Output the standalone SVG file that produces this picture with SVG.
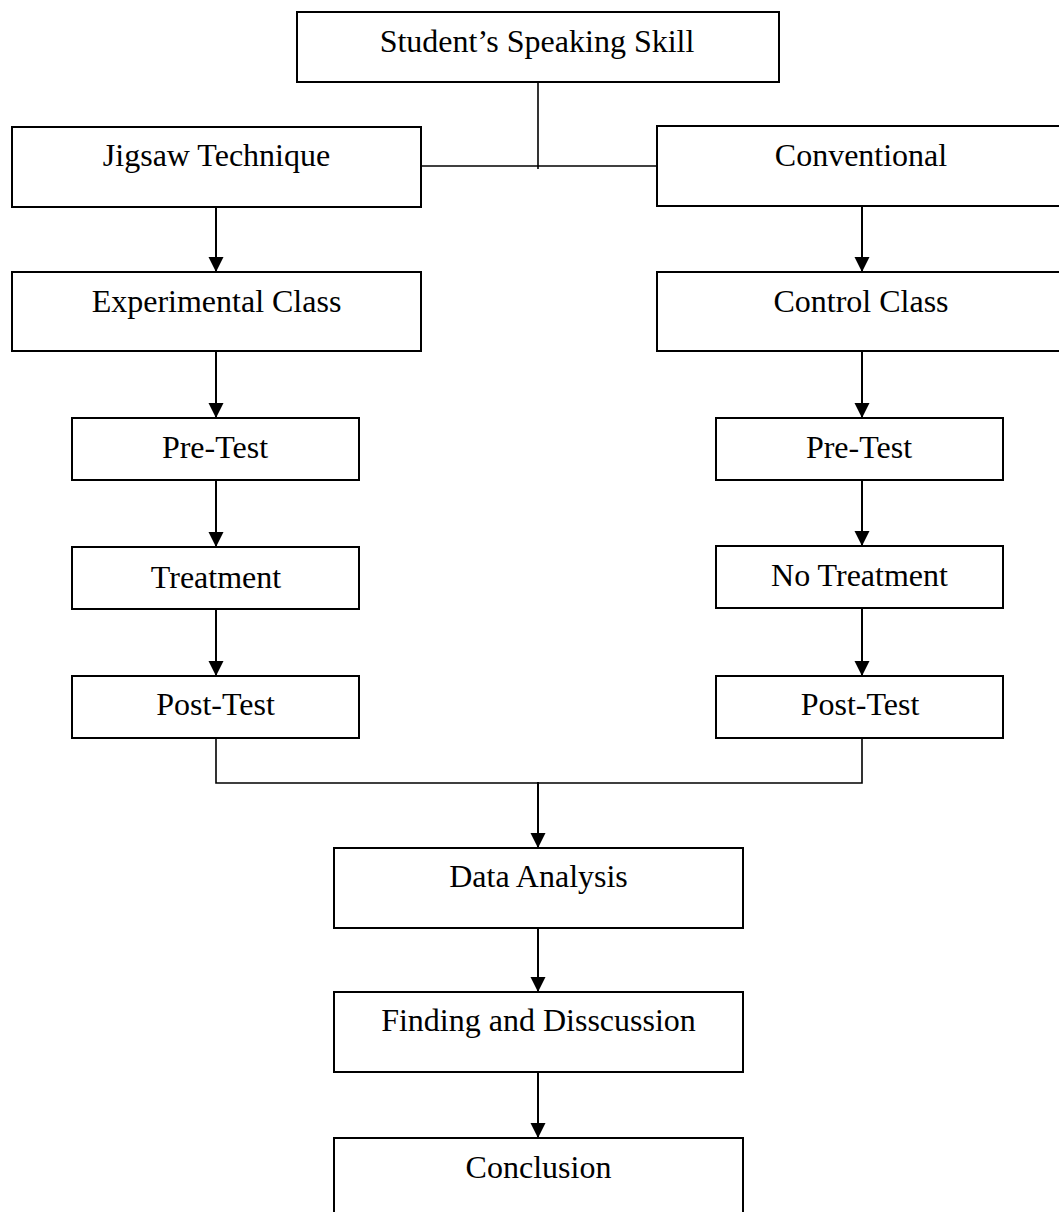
<svg xmlns="http://www.w3.org/2000/svg" width="1059" height="1212" viewBox="0 0 1059 1212">
<style>
.box{fill:#fff;stroke:#000;stroke-width:2}
.lbl{font-family:"Liberation Serif","Times New Roman",serif;font-size:32px;fill:#000;text-anchor:middle}
.ln{fill:none;stroke:#000;stroke-width:1.6}
.ar{fill:none;stroke:#000;stroke-width:2;marker-end:url(#ah)}
</style>
<defs>
<marker id="ah" markerUnits="userSpaceOnUse" markerWidth="16" markerHeight="16" viewBox="0 0 16 16" refX="15" refY="8" orient="auto">
<path d="M0,0.5 L15,8 L0,15.5 z" fill="#000"/>
</marker>
</defs>
<rect width="1059" height="1212" fill="#fff"/>
<g id="connectors">
<polyline class="ln" points="538,82 538,169"/>
<polyline class="ln" points="421,166 657,166"/>
<line class="ar" x1="216" y1="207" x2="216" y2="272"/>
<line class="ar" x1="862" y1="206" x2="862" y2="272"/>
<line class="ar" x1="216" y1="351" x2="216" y2="418"/>
<line class="ar" x1="862" y1="351" x2="862" y2="418"/>
<line class="ar" x1="216" y1="480" x2="216" y2="547"/>
<line class="ar" x1="862" y1="480" x2="862" y2="546"/>
<line class="ar" x1="216" y1="609" x2="216" y2="676"/>
<line class="ar" x1="862" y1="608" x2="862" y2="676"/>
<polyline class="ln" points="216,738 216,783 862,783 862,738"/>
<line class="ar" x1="538" y1="782" x2="538" y2="848"/>
<line class="ar" x1="538" y1="928" x2="538" y2="992"/>
<line class="ar" x1="538" y1="1072" x2="538" y2="1138"/>
</g>
<g id="n-speaking"><rect class="box" x="297" y="12" width="482" height="70"/><text class="lbl" x="537" y="52">Student’s Speaking Skill</text></g>
<g id="n-jigsaw"><rect class="box" x="12" y="127" width="409" height="80"/><text class="lbl" x="216.5" y="166">Jigsaw Technique</text></g>
<g id="n-conventional"><rect class="box" x="657" y="126" width="410" height="80"/><text class="lbl" x="861" y="166">Conventional</text></g>
<g id="n-experimental"><rect class="box" x="12" y="272" width="409" height="79"/><text class="lbl" x="216.5" y="312">Experimental Class</text></g>
<g id="n-control"><rect class="box" x="657" y="272" width="410" height="79"/><text class="lbl" x="861" y="312">Control Class</text></g>
<g id="n-pretest-e"><rect class="box" x="72" y="418" width="287" height="62"/><text class="lbl" x="215" y="458">Pre-Test</text></g>
<g id="n-pretest-c"><rect class="box" x="716" y="418" width="287" height="62"/><text class="lbl" x="859" y="458">Pre-Test</text></g>
<g id="n-treatment"><rect class="box" x="72" y="547" width="287" height="62"/><text class="lbl" x="216" y="588">Treatment</text></g>
<g id="n-notreatment"><rect class="box" x="716" y="546" width="287" height="62"/><text class="lbl" x="859.5" y="586">No Treatment</text></g>
<g id="n-posttest-e"><rect class="box" x="72" y="676" width="287" height="62"/><text class="lbl" x="215.5" y="715">Post-Test</text></g>
<g id="n-posttest-c"><rect class="box" x="716" y="676" width="287" height="62"/><text class="lbl" x="860" y="715">Post-Test</text></g>
<g id="n-data"><rect class="box" x="334" y="848" width="409" height="80"/><text class="lbl" x="538.5" y="887">Data Analysis</text></g>
<g id="n-finding"><rect class="box" x="334" y="992" width="409" height="80"/><text class="lbl" x="538.5" y="1031">Finding and Disscussion</text></g>
<g id="n-conclusion"><rect class="box" x="334" y="1138" width="409" height="80"/><text class="lbl" x="538.5" y="1178">Conclusion</text></g>
</svg>
